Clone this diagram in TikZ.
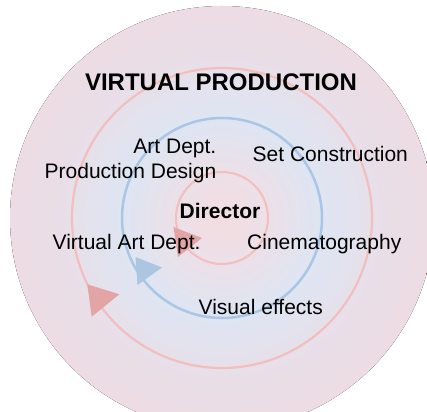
\documentclass[tikz,border=0pt]{standalone}
\usepackage{fontspec}
\setmainfont{Liberation Sans}
\definecolor{bgA}{RGB}{243,221,225}
\definecolor{bgB}{RGB}{236,224,232}
\definecolor{bgC}{RGB}{222,229,242}
\definecolor{bgD}{RGB}{226,227,239}
\definecolor{bgE}{RGB}{233,222,231}
\definecolor{bgF}{RGB}{237,220,227}
\definecolor{ringred}{RGB}{242,190,190}
\definecolor{ringblue}{RGB}{170,198,228}
\definecolor{trired}{RGB}{226,164,164}
\definecolor{triblue}{RGB}{172,198,226}
\pgfdeclareradialshading{bgshade}{\pgfpointorigin}{color(0bp)=(bgA); color(5.5bp)=(bgB); color(11.5bp)=(bgC); color(15bp)=(bgD); color(19bp)=(bgE); color(25bp)=(bgF); color(50bp)=(bgF)}
\tikzset{
  lbl/.style={font=\fontsize{21}{25}\selectfont, inner sep=0pt, text=black},
  boldlbl/.style={font=\bfseries\fontsize{21}{25}\selectfont, inner sep=0pt, text=black},
  titlelbl/.style={font=\bfseries\fontsize{24}{28}\selectfont, inner sep=0pt, text=black},
  redring/.style={draw=ringred, line width=2.2pt},
  bluering/.style={draw=ringblue, line width=2.5pt},
}
\begin{document}
\begin{tikzpicture}[x=1pt,y=-1pt]
\useasboundingbox (0,0) rectangle (427,411);
\clip (0,0) rectangle (427,411);
\fill[white] (0,0) rectangle (427,411);
\coordinate (c) at (222,218);
\fill[shading=bgshade] (c) circle[radius=212pt];
\draw[redring] (c) circle[radius=150pt];
\draw[bluering] (c) circle[radius=100pt];
\draw[redring, line width=2pt] (c) circle[radius=46pt];
\fill[trired] (87.3,284.3) -- (119.3,294.3) -- (91.7,316.7) -- cycle;
\fill[triblue] (135.5,257) -- (162,267.5) -- (137.5,285) -- cycle;
\fill[trired] (173.5,227) -- (202,238) -- (178,257) -- cycle;
\node[titlelbl, anchor=base] (title) at (221,91) {VIRTUAL PRODUCTION};
\node[lbl, anchor=base east] (art) at (216.5,154) {Art Dept.};
\node[lbl, anchor=base east] (prod) at (216.5,179) {Production Design};
\node[lbl, anchor=base west] (set) at (252.5,161.5) {Set Construction};
\node[boldlbl, anchor=base] (dir) at (220,218.5) {Director};
\node[lbl, anchor=base west] (vad) at (52.5,249.5) {Virtual Art Dept.};
\node[lbl, anchor=base west] (cine) at (247,249) {Cinematography};
\node[lbl, anchor=base west] (vfx) at (198.5,314.5) {Visual effects};
\end{tikzpicture}
\end{document}
